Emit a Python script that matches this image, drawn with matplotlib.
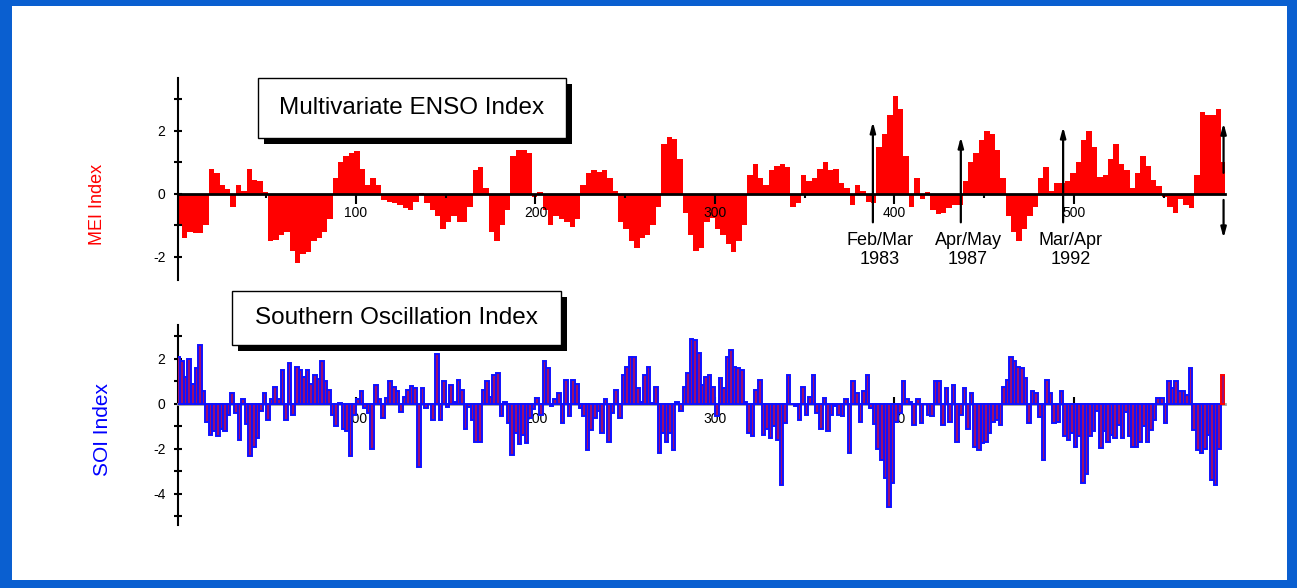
import numpy as np
import matplotlib.pyplot as plt
from matplotlib.patches import Rectangle

plt.rcParams['font.family'] = ['Liberation Sans', 'DejaVu Sans']
plt.rcParams['axes.unicode_minus'] = False

W, H = 1297, 588

# MEI, read every 3 months from Jan 1950 (month index 0)
mei_month = np.arange(0, 585, 3)
mei = [-1.0, -1.4, -1.2, -1.25, -1.25, -1.0, 0.8, 0.65, 0.3, 0.15,
       -0.4, 0.3, 0.1, 0.8, 0.45, 0.4, 0.05, -1.5, -1.45, -1.3,
       -1.2, -1.8, -2.2, -1.9, -1.85, -1.5, -1.4, -1.2, -0.8, 0.5,
       1.0, 1.2, 1.3, 1.35, 0.8, 0.3, 0.5, 0.3, -0.2, -0.25,
       -0.3, -0.35, -0.45, -0.5, -0.25, 0.02, -0.3, -0.5, -0.7, -1.1,
       -0.9, -0.7, -0.9, -0.9, -0.4, 0.75, 0.85, 0.2, -1.2, -1.5,
       -1.0, -0.5, 1.2, 1.4, 1.4, 1.3, -0.1, 0.05, -0.5, -1.0,
       -0.7, -0.8, -0.9, -1.05, -0.8, 0.3, 0.65, 0.75, 0.7, 0.75,
       0.5, 0.1, -0.9, -1.1, -1.5, -1.7, -1.4, -1.3, -1.0, -0.4,
       1.6, 1.8, 1.75, 1.1, -0.6, -1.3, -1.8, -1.7, -0.9, -0.75,
       -1.1, -1.3, -1.6, -1.85, -1.5, -1.0, 0.6, 0.95, 0.5, 0.3,
       0.75, 0.9, 0.95, 0.85, -0.4, -0.3, 0.6, 0.4, 0.5, 0.8,
       1.0, 0.75, 0.8, 0.35, 0.2, -0.35, 0.3, 0.1, -0.25, -0.3,
       1.5, 1.9, 2.5, 3.1, 2.7, 1.2, -0.4, 0.5, -0.15, 0.05,
       -0.5, -0.65, -0.6, -0.45, -0.35, -0.35, 0.4, 1.0, 1.3, 1.7,
       2.0, 1.9, 1.4, 0.5, -0.7, -1.2, -1.5, -1.1, -0.7, -0.4,
       0.5, 0.85, 0.1, 0.35, 0.35, 0.4, 0.65, 1.0, 1.7, 2.0,
       1.5, 0.55, 0.6, 1.1, 1.6, 0.95, 0.75, 0.2, 0.65, 1.2,
       0.9, 0.45, 0.25, -0.1, -0.4, -0.6, -0.15, -0.35, -0.45, 0.6,
       2.6, 2.5, 2.5, 2.7, 1.0]

# SOI, read every 2 months
soi_month = np.arange(0, 584, 2)
soi = [2.1, 1.9, 1.2, 2.0, 0.9, 1.6, 2.6, 0.55, -0.8, -1.4,
       -1.2, -1.45, -1.1, -1.2, -0.5, 0.5, -0.4, -1.6, 0.2, -0.9,
       -2.3, -1.9, -1.5, -0.3, 0.5, -0.7, 0.2, 0.75, 0.2, 1.5,
       -0.7, 1.8, -0.5, 1.65, 1.5, 1.2, 1.5, 0.9, 1.3, 1.1,
       1.9, 1.0, 0.6, -0.5, -1.0, 0.05, -1.1, -1.2, -2.3, -0.5,
       0.2, 0.55, -0.2, -0.4, -2.0, 0.85, 0.2, -0.65, 0.25, 1.0,
       0.75, 0.55, -0.35, 0.3, 0.6, 0.8, 0.7, -2.8, 0.7, -0.2,
       0.0, -0.7, 2.2, -0.7, 1.0, -0.15, 0.85, 0.1, 1.05, 0.6,
       -1.1, -0.15, -0.7, -1.7, -1.7, 0.6, 1.0, 0.3, 1.3, 1.35,
       -0.55, 0.1, -0.85, -2.25, -1.3, -1.8, -1.4, -1.75, -0.65, -0.25,
       0.25, -0.5, 1.9, 1.6, -0.1, 0.2, 0.5, -0.85, 1.05, -0.55,
       1.05, 0.9, -0.2, -0.55, -2.05, -1.15, -0.65, -0.3, -1.3, 0.2,
       -1.7, -0.4, 0.6, -0.65, 1.3, 1.65, 2.1, 2.1, 0.7, 0.1,
       1.3, 1.65, 0.05, 0.75, -2.2, -1.3, -1.7, -1.3, -2.05, 0.1,
       -0.3, 0.75, 1.35, 2.9, 2.85, 2.25, 0.85, 1.2, 1.3, 0.75,
       -0.55, 1.15, 0.7, 2.1, 2.4, 1.65, 1.6, 1.5, 0.1, -1.3,
       -1.45, 0.6, 1.05, -1.4, -1.1, -1.5, -1.0, -1.6, -3.6, -0.85,
       1.3, 0.0, -0.1, -0.7, 0.75, -0.5, 0.3, 1.3, -0.4, -1.1,
       0.25, -1.2, -0.5, -0.1, -0.5, -0.55, 0.2, -2.2, 1.0, 0.5,
       -0.8, 0.55, 1.3, -0.2, -0.9, -2.0, -2.5, -3.3, -4.6, -3.5,
       -0.8, -0.4, 1.0, 0.2, 0.1, -0.95, 0.2, -0.85, 0.0, -0.5,
       -0.55, 1.0, 1.0, -0.95, 0.7, -0.8, 0.85, -1.7, -0.5, 0.7,
       -1.1, 0.5, -1.9, -2.05, -1.75, -1.7, -1.3, -0.8, -0.7, -0.95,
       0.75, 1.05, 2.1, 1.9, 1.65, 1.6, 1.15, -0.85, 0.55, 0.5,
       -0.6, -2.5, 1.05, 0.5, -0.85, -0.8, 0.55, -1.45, -1.6, -1.3,
       -1.9, -1.45, -3.5, -3.1, -1.45, -1.2, -0.3, -1.95, -1.2, -1.7,
       -1.4, -1.5, -0.95, -1.5, -0.35, -1.45, -1.9, -1.9, -1.7, -1.0,
       -1.7, -1.15, -0.7, 0.25, 0.25, -0.85, 1.0, 0.7, 1.0, 0.55,
       0.55, 0.4, 1.6, -1.15, -2.05, -2.2, -2.0, -1.4, -3.4, -3.6,
       -2.0, 1.3]

events = ['Feb/Mar\n1983', 'Apr/May\n1987', 'Mar/Apr\n1992']
event_month = [388, 437, 494]
event_top = [2.29, 1.81, 2.13]


def fx(x):
    return x / W


def fy(y):
    return 1 - y / H


arrow_style = dict(arrowstyle='-|>,head_length=0.6,head_width=0.16',
                   color='black', lw=1.6, shrinkA=0, shrinkB=0)

fig = plt.figure(figsize=(W / 100, H / 100), dpi=100, facecolor='#0a5fd0')
fig.add_artist(Rectangle((fx(12), fy(580)), fx(1287) - fx(12), fy(6) - fy(580),
                         transform=fig.transFigure, facecolor='white',
                         edgecolor='none', zorder=-1))

## Upper panel: MEI
ax1 = fig.add_axes([fx(178), fy(280), fx(1225) - fx(178), fy(78) - fy(280)])
ax1.set_facecolor('none')
ax1.bar(mei_month, mei, width=3, align='edge', color='red', linewidth=0)
ax1.set_xlim(0.8, 584.2)
ax1.set_ylim(-2.73, 3.68)
ax1.spines['top'].set_visible(False)
ax1.spines['right'].set_visible(False)
ax1.spines['bottom'].set_position(('data', 0))
ax1.spines['bottom'].set_linewidth(2)
ax1.spines['left'].set_linewidth(1.5)
ax1.set_xticks([100, 200, 300, 400, 500])
ax1.set_xticks(np.arange(50, 584, 100), minor=True)
ax1.set_yticks([-2, 0, 2])
ax1.set_yticks([-1, 1, 3], minor=True)
ax1.tick_params(axis='x', which='major', direction='out', length=7, width=1.5,
                labelsize=10, pad=2)
ax1.tick_params(axis='x', which='minor', direction='out', length=3, width=1.5)
ax1.tick_params(axis='y', which='both', direction='inout', length=6, width=1.5,
                labelsize=10, pad=6)

# event arrows and labels
for m, top, lab in zip(event_month, event_top, events):
    ax1.annotate('', xy=(m, top), xytext=(m, -0.9), arrowprops=arrow_style)
    ax1.text(m + 4, -1.2, lab, ha='center', va='top', fontsize=13, linespacing=1.2)
ax1.annotate('', xy=(583.4, 2.25), xytext=(583.4, 0.67), arrowprops=arrow_style)
ax1.annotate('', xy=(583.4, -1.4), xytext=(583.4, -0.19), arrowprops=arrow_style)

## Lower panel: SOI
ax2 = fig.add_axes([fx(178), fy(525), fx(1225) - fx(178), fy(325) - fy(525)])
ax2.set_facecolor('none')
edges = ['#1010ff'] * (len(soi) - 1) + ['red']
ax2.bar(soi_month, soi, width=2, align='edge', facecolor='#9a1070',
        edgecolor=edges, linewidth=1.4, zorder=3)
ax2.set_xlim(0.8, 584.2)
ax2.set_ylim(-5.38, 3.5)
ax2.spines['top'].set_visible(False)
ax2.spines['right'].set_visible(False)
ax2.spines['bottom'].set_position(('data', 0))
ax2.spines['bottom'].set_linewidth(2)
ax2.spines['bottom'].set_color('#a0a0a0')
ax2.spines['left'].set_linewidth(1.5)
ax2.set_xticks([100, 200, 300, 400, 500])
ax2.set_yticks([-4, -2, 0, 2])
ax2.set_yticks([-5, -3, -1, 1, 3], minor=True)
ax2.tick_params(axis='x', which='major', direction='in', length=5, width=1.5,
                color='black', labelsize=10, pad=6)
ax2.tick_params(axis='y', which='both', direction='inout', length=6, width=1.5,
                labelsize=10, pad=6)

## Axis titles
fig.text(fx(97), fy(204), 'MEI Index', rotation=90, color='red', fontsize=13,
         ha='center', va='center')
fig.text(fx(103), fy(429), 'SOI Index', rotation=90, color='blue', fontsize=15,
         ha='center', va='center')


## Title boxes with shadows
def title_box(x0, y0, x1, y1, text):
    fig.add_artist(Rectangle((fx(x0 + 6), fy(y1 + 6)), fx(x1) - fx(x0), fy(y0) - fy(y1),
                             transform=fig.transFigure, facecolor='black',
                             edgecolor='none', zorder=5))
    fig.add_artist(Rectangle((fx(x0), fy(y1)), fx(x1) - fx(x0), fy(y0) - fy(y1),
                             transform=fig.transFigure, facecolor='white',
                             edgecolor='black', linewidth=1, zorder=6))
    fig.text(fx((x0 + x1) / 2), fy((y0 + y1) / 2), text, fontsize=17.5,
             ha='center', va='center', zorder=7)


title_box(258, 78, 566, 138, 'Multivariate ENSO Index')
title_box(232, 291, 561, 345, 'Southern Oscillation Index')

fig.savefig('out.png', dpi=100, facecolor=fig.get_facecolor())
